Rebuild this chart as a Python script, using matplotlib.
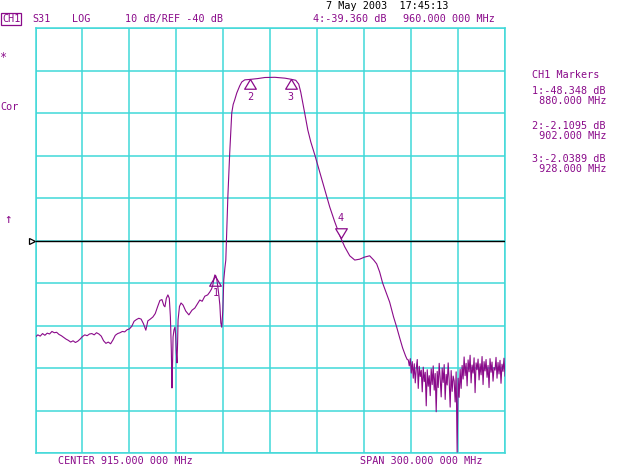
import numpy as np
import matplotlib.pyplot as plt
from matplotlib.path import Path

plt.rcParams['font.family'] = ['DejaVu Sans Mono']

# swept trace, MHz / dB
freq = [765, 766.5, 768, 769.5, 771, 772.5, 774, 775.5, 777, 778.5, 780, 781.5,
        783, 784.5, 786, 787.5, 789, 790.5, 792, 793.5, 795, 796.5, 798, 799.5,
        801, 802.5, 804, 805.5, 807, 808.5, 810, 811.5, 813, 814.5, 816, 817.5,
        819, 820.5, 822, 823.5, 825, 826.5, 828, 829.5, 831, 832.5, 834, 835.5,
        836.8, 838, 840, 841.5, 843, 844.5, 845.8, 847, 847.7, 848.6, 849.6,
        850.5, 851.2, 851.8, 852.2, 852.6, 852.9, 853.5, 854.1, 854.5, 855.0,
        855.4, 855.8, 856.1, 857, 858, 859.3, 861, 863, 865, 866.8, 868.5, 870,
        871.5, 873.2, 875, 876.4, 877.5, 878.3, 879, 879.6, 880.2, 880.9, 881.5,
        882.2, 882.8, 883.4, 884, 884.7, 885.3, 886.0, 886.6, 887.2, 887.9,
        888.5, 889.1, 889.8, 890.4, 891.3, 892.3, 893.6, 895.5, 896.8, 898.7,
        902, 907, 911.5, 917.9, 924.3, 928, 931.3, 933.2, 934.5, 935.8, 937,
        939, 940.9, 943.5, 946.6, 949.8, 953, 956.2, 960, 962.6, 965.8, 969,
        972.1, 975.3, 978.5, 981.1, 983, 984.9, 986.8, 989.4, 991.3, 993.8,
        995.8, 997.7, 999.6, 1001.5, 1002.5]
db = [-62.7, -62.2, -62.5, -61.9, -62.3, -61.8, -62.0, -61.4, -61.7, -61.6,
      -62.1, -62.4, -62.8, -63.2, -63.5, -63.9, -63.6, -64.0, -63.7, -63.2,
      -62.6, -62.2, -62.4, -62.0, -61.9, -62.2, -61.7, -62.0, -62.5, -63.6,
      -64.2, -63.9, -64.3, -63.4, -62.3, -61.9, -61.7, -61.4, -61.5, -61.0,
      -60.8, -60.2, -59.0, -58.6, -58.3, -58.5, -59.6, -61.1, -58.9, -58.6,
      -58.0, -57.2, -55.6, -54.1, -53.9, -55.3, -55.6, -53.6, -52.8, -53.6,
      -58.0, -66.0, -74.7, -68.5, -62.7, -61.0, -60.4, -62.0, -66.5, -68.8,
      -64.0, -58.7, -55.5, -54.7, -55.2, -56.6, -57.5, -56.4, -55.9, -54.9,
      -54.0, -54.3, -53.1, -52.8, -52.1, -51.4, -50.5, -49.0, -48.1, -48.3,
      -49.3, -50.9, -53.0, -55.2, -59.4, -60.4, -56.4, -49.3, -46.5, -44.6,
      -37.5, -29.8, -24.5, -19.4, -14.5, -10.0, -8.0, -6.9, -5.3, -3.6, -2.7,
      -2.2, -2.1, -1.9, -1.65, -1.6, -1.8, -2.04, -2.3, -3.2, -5.1, -7.6,
      -10.0, -14.0, -16.8, -19.9, -23.9, -28.1, -32.1, -35.6, -39.36, -41.5,
      -43.6, -44.6, -44.4, -43.9, -43.6, -44.6, -45.5, -47.4, -50.0, -52.6,
      -54.5, -58.0, -60.4, -62.9, -65.3, -67.2, -68.0]

# stopband noise, one value per sweep point from 1003.2 to 1065 MHz
noise_db = [-68.1, -69.5, -67.8, -71.2, -68.5, -72.4, -69.0, -73.5, -70.2, -68.0,
            -74.8, -69.6, -72.0, -70.5, -75.6, -69.8, -73.2, -71.0, -78.9, -70.4,
            -74.3, -71.8, -76.5,
            -70.2, -73.9, -69.5, -75.2, -71.3, -80.3, -70.8, -74.6, -68.9, -72.5,
            -76.8, -70.0, -73.4, -69.2, -77.4, -71.5, -74.0, -68.8, -72.9, -79.2,
            -70.6, -75.5, -71.9, -73.0, -78.0, -70.9,
            -89.8, -72.4, -76.9, -70.3, -74.8, -69.4,
            -72.6, -67.4, -71.8, -68.9, -74.2, -68.1, -70.9, -67.0, -73.5, -69.3,
            -71.2, -67.6, -75.8, -68.8, -70.4, -67.9, -72.8, -69.0, -71.6, -67.3,
            -73.9, -68.5, -70.7, -68.0, -72.2, -69.4, -74.6, -67.8, -71.0, -68.6,
            -73.1, -69.9, -70.5, -67.5, -72.4, -68.7, -71.4, -68.2, -73.6, -69.1,
            -70.8, -67.7, -71.9]
noise_f = np.linspace(1003.2, 1065, len(noise_db))

mk_num = ['1', '2', '3', '4']
mk_f = [880.0, 902.0, 928.0, 960.0]
mk_db = [-48.348, -2.1095, -2.0389, -39.360]

ref_db = -40
center, span = 915.0, 300.0

purple = '#8a0a8a'
cyan = '#40d8d8'

fig = plt.figure(figsize=(6.4, 4.65), dpi=100)
ax = fig.add_axes([35.5 / 640, 12 / 465, 469.5 / 640, 425 / 465])
ax.set_xlim(center - span / 2, center + span / 2)
ax.set_ylim(ref_db - 50, ref_db + 50)
ax.set_xticks(np.linspace(center - span / 2, center + span / 2, 11))
ax.set_yticks(np.linspace(ref_db - 50, ref_db + 50, 11))
ax.tick_params(length=0, labelbottom=False, labelleft=False)
ax.grid(True, color=cyan, lw=1.1)
for s in ax.spines.values():
    s.set_color(cyan)
    s.set_linewidth(1.1)

ax.axhline(ref_db, color='black', lw=1, zorder=3)
ax.plot([center - span / 2 - 2.3], [ref_db], marker='>', ms=4.5, mfc='white',
        mec='black', mew=0.9, clip_on=False, zorder=5)

ax.plot(freq + list(noise_f), db + noise_db, color=purple, lw=0.8, zorder=4)

up = Path([(0, 0), (-0.6, -1), (0.6, -1), (0, 0)], [1, 2, 2, 79])
down = Path([(0, 0), (-0.6, 1), (0.6, 1), (0, 0)], [1, 2, 2, 79])
for n, f, d in zip(mk_num, mk_f, mk_db):
    if n == '4':
        ax.plot(f, d, marker=down, ms=14, mfc='white', mec=purple, mew=0.9, zorder=6)
        ax.annotate(n, (f, d), xytext=(0, 11), textcoords='offset points',
                    ha='center', va='bottom', color=purple, fontsize=7.3)
    else:
        ax.plot(f, d, marker=up, ms=14, mfc='none', mec=purple, mew=0.9, zorder=6)
        ax.annotate(n, (f, d), xytext=(0, -9), textcoords='offset points',
                    ha='center', va='top', color=purple, fontsize=7.3)


def txt(x, y, s, color=purple, size=7.3, **kw):
    fig.text(x / 640, 1 - y / 465, s, color=color, fontsize=size, va='center', **kw)


txt(2, 19, 'CH1', bbox=dict(boxstyle='square,pad=0.1', fc='white', ec=purple, lw=0.9))
txt(32, 19, 'S31')
txt(72, 19, 'LOG')
txt(125, 19, '10 dB/REF -40 dB')
txt(313, 19, '4:-39.360 dB')
txt(403, 19, '960.000 000 MHz')
txt(326, 6, '7 May 2003  17:45:13', color='black')
txt(532, 75, 'CH1 Markers')
txt(532, 91, '1:-48.348 dB')
txt(533, 101, ' 880.000 MHz')
txt(532, 126, '2:-2.1095 dB')
txt(533, 136, ' 902.000 MHz')
txt(532, 159, '3:-2.0389 dB')
txt(533, 169, ' 928.000 MHz')
txt(0, 58, '*', size=8.5)
txt(0, 107, 'Cor')
txt(4, 219, '\u2191', size=9)
txt(58, 461, 'CENTER 915.000 000 MHz')
txt(360, 461, 'SPAN 300.000 000 MHz')

fig.savefig('out.png', dpi=100)
